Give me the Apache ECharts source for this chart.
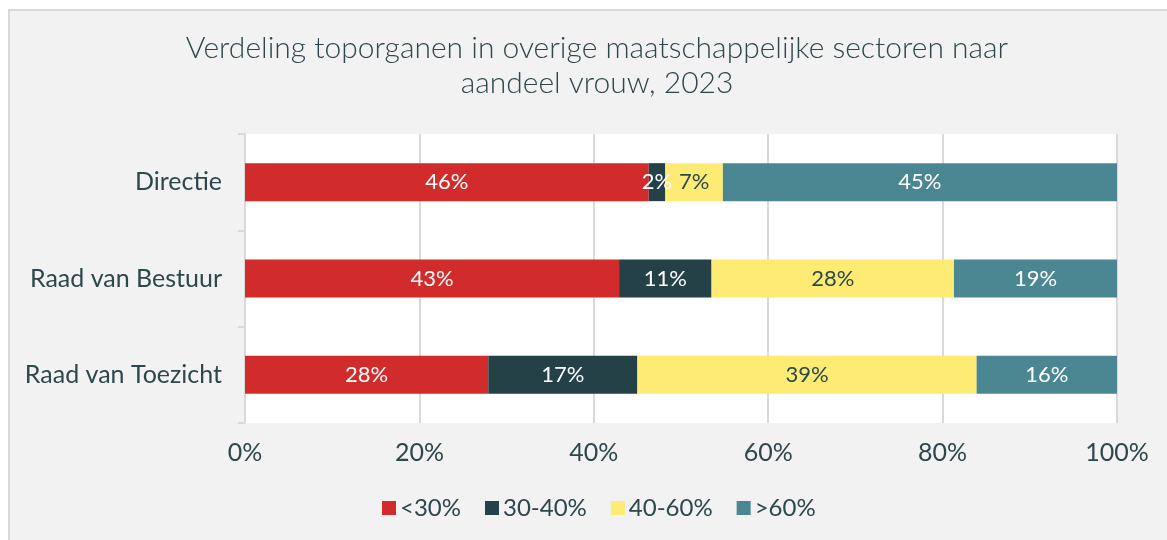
<!DOCTYPE html>
<html>
<head>
<meta charset="utf-8">
<script src="https://cdn.jsdelivr.net/npm/echarts@6/dist/echarts.min.js"></script>
<style>
  html, body { margin: 0; padding: 0; background: #ffffff; }
  #chart { width: 1167px; height: 540px; }
</style>
</head>
<body>
<div id="chart"></div>
<script>
// Organ types (top to bottom)
const categories = ['Directie', 'Raad van Bestuur', 'Raad van Toezicht'];
// Share of organs per female-share class, in percent
const lt30   = [46.3, 42.9, 27.9];
const s30_40 = [1.9, 10.6, 17.1];
const s40_60 = [6.6, 27.8, 38.9];
const gt60   = [45.2, 18.7, 16.1];
const seriesNames = ['<30%', '30-40%', '40-60%', '>60%'];
const xTicks = [0, 20, 40, 60, 80, 100];

const textColor = '#2d474d';
const font = 'Lato';

const chart = echarts.init(document.getElementById('chart'));

function barSeries(name, data, color, labelColor) {
  return {
    name: name,
    type: 'bar',
    stack: 'total',
    data: data,
    barWidth: 38,
    itemStyle: { color: color },
    label: {
      show: true,
      position: 'inside',
      color: labelColor,
      fontFamily: font,
      fontSize: 22,
      formatter: p => Math.round(p.value) + '%'
    },
    emphasis: { disabled: true }
  };
}

chart.setOption({
  animation: false,
  backgroundColor: '#ffffff',
  graphic: [{
    type: 'rect',
    left: 8, top: 9,
    shape: { width: 1200, height: 560 },
    style: { fill: '#f2f2f2', stroke: '#d9d9d9', lineWidth: 2 },
    z: -10
  }],
  title: {
    text: 'Verdeling toporganen in overige maatschappelijke sectoren naar\naandeel vrouw, 2023',
    left: 592,
    textAlign: 'center',
    top: 26,
    textStyle: {
      fontFamily: font,
      fontWeight: 300,
      fontSize: 30,
      lineHeight: 35,
      color: textColor
    }
  },
  legend: {
    data: seriesNames,
    left: 377,
    top: 491,
    itemWidth: 14,
    itemHeight: 14,
    itemGap: 24,
    icon: 'rect',
    textStyle: { fontFamily: font, fontSize: 24, color: textColor, padding: [0, 0, 0, -1] }
  },
  grid: {
    left: 245,
    right: 50,
    top: 134,
    bottom: 117,
    show: true,
    backgroundColor: '#ffffff',
    borderWidth: 0
  },
  xAxis: {
    type: 'value',
    min: 0,
    max: 100,
    interval: 20,
    axisLine: { show: false },
    axisTick: { show: false },
    splitLine: { show: true, lineStyle: { color: '#d9d9d9', width: 2 } },
    axisLabel: {
      margin: 17,
      fontFamily: font,
      fontSize: 25,
      color: textColor,
      formatter: v => (xTicks.indexOf(v) >= 0 ? v + '%' : '')
    }
  },
  yAxis: {
    type: 'category',
    data: categories,
    inverse: true,
    axisLine: { show: true, lineStyle: { color: '#d9d9d9', width: 2 } },
    axisTick: { show: true, length: 7, lineStyle: { color: '#d9d9d9', width: 2 } },
    axisLabel: {
      margin: 23,
      fontFamily: font,
      fontSize: 25,
      color: textColor
    }
  },
  series: [
    barSeries(seriesNames[0], lt30, '#d12b2b', '#ffffff'),
    barSeries(seriesNames[1], s30_40, '#254148', '#ffffff'),
    barSeries(seriesNames[2], s40_60, '#fdeb73', textColor),
    barSeries(seriesNames[3], gt60, '#4a8793', '#ffffff')
  ]
});
</script>
</body>
</html>
